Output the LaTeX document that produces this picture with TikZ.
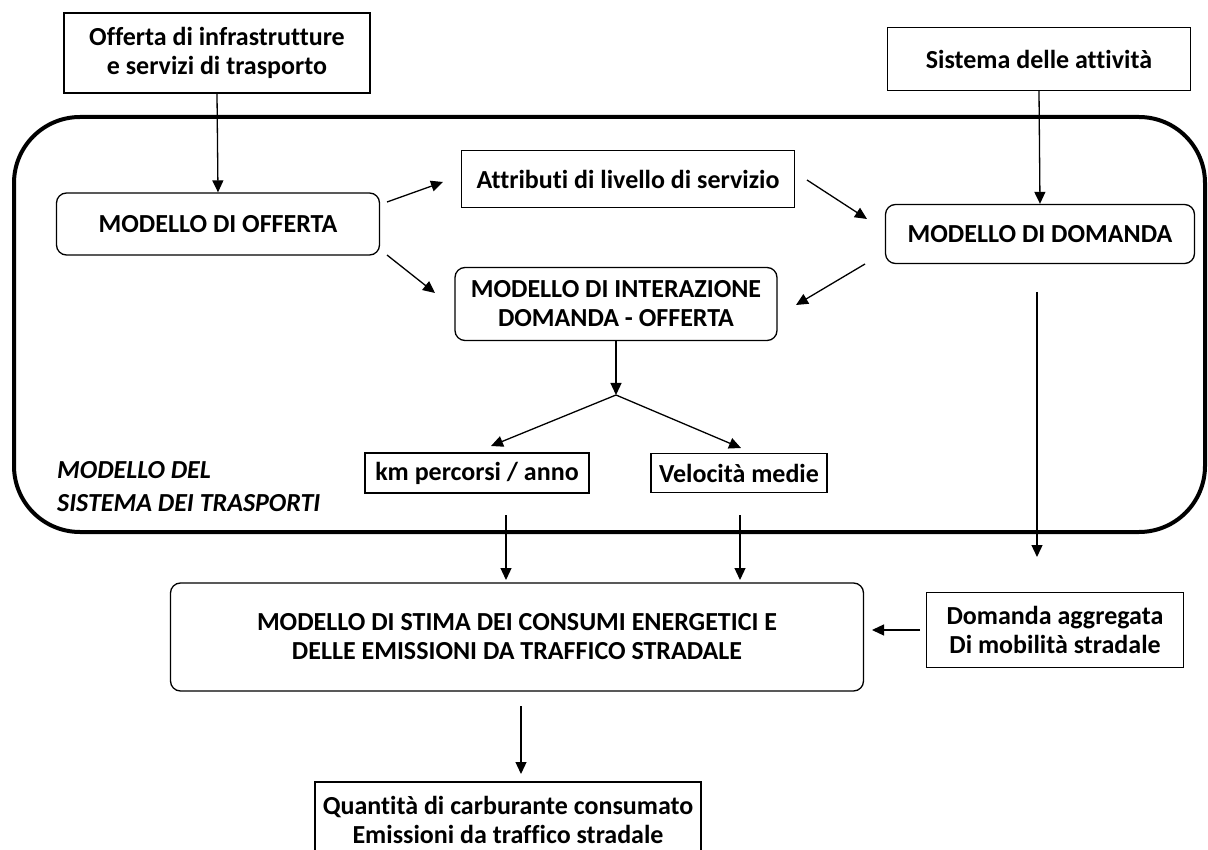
\documentclass[tikz,border=0pt]{standalone}
\usepackage{fontspec}
\setmainfont{Carlito}[Ligatures=CommonOff]
\usepackage{tikz}
\usetikzlibrary{arrows.meta,positioning}

\begin{document}
\begin{tikzpicture}[x=1pt, y=-1pt,
    box/.style={draw, line width=1.3pt, align=center, inner sep=0pt, font=\fontsize{26}{29}\selectfont\bfseries},
    rbox/.style={box, rounded corners=10pt},
    arr/.style={-{Triangle[length=12pt,width=11pt]}, line width=1.3pt}]
    \useasboundingbox (0,0) rectangle (1208,850);

    % system frame
    \draw[line width=4pt, rounded corners=66pt] (14,117) rectangle (1205,532);
    \node[anchor=west, align=left, inner sep=0pt, font=\fontsize{26}{33}\selectfont\bfseries\itshape] (sys_lbl) at (57,487) {MODELLO DEL\\SISTEMA DEI TRASPORTI};

    \node[box, minimum width=306, minimum height=80] (off_in) at (217,53) {Offerta di infrastrutture\\e servizi di trasporto};
    \node[box, minimum width=303, minimum height=63] (sist) at (1039,59) {Sistema delle attivit\`a};

    \node[rbox, minimum width=323, minimum height=62] (mod_off) at (218,224) {MODELLO DI OFFERTA};
    \node[box, minimum width=333, minimum height=57] (attr) at (628,179) {Attributi di livello di servizio};
    \node[rbox, minimum width=309, minimum height=59] (mod_dom) at (1040,234) {MODELLO DI DOMANDA};
    \node[rbox, minimum width=322, minimum height=73] (mod_int) at (616,304) {MODELLO DI INTERAZIONE\\DOMANDA - OFFERTA};

    \node[box, minimum width=224, minimum height=40] (km) at (477,473) {km percorsi / anno};
    \node[box, minimum width=176, minimum height=39] (vel) at (739,473) {Velocit\`a medie};

    \node[rbox, minimum width=693, minimum height=108] (stima) at (517,637) {MODELLO DI STIMA DEI CONSUMI ENERGETICI E\\DELLE EMISSIONI DA TRAFFICO STRADALE};
    \node[box, minimum width=257, minimum height=75] (agg) at (1055,630) {Domanda aggregata\\Di mobilit\`a stradale};
    \node[box, minimum width=386, minimum height=76] (quant) at (508,820) {Quantit\`a di carburante consumato\\Emissioni da traffico stradale};

    % free ends of the arrows
    \coordinate (off_a) at (387,202);
    \coordinate (attr_in) at (443,182);
    \coordinate (off_b) at (387,255);
    \coordinate (int_in1) at (435,293);
    \coordinate (attr_out) at (807,180);
    \coordinate (dom_in) at (867,219);
    \coordinate (dom_out) at (865,264);
    \coordinate (int_in2) at (796,305);
    \coordinate (fork) at (616,395);
    \coordinate (km_in) at (491,446);
    \coordinate (vel_in) at (741,448);
    \coordinate (km_out) at (506,515);
    \coordinate (km_end) at (506,580);
    \coordinate (vel_out) at (740,515);
    \coordinate (vel_end) at (740,580);
    \coordinate (dom_down) at (1037,292);
    \coordinate (dom_end) at (1037,557);
    \coordinate (agg_out) at (920,630);
    \coordinate (stima_in) at (872,630);
    \coordinate (stima_out) at (521,706);
    \coordinate (quant_in) at (521,774);

    \draw[arr] (off_in.south) -- (mod_off.north);
    \draw[arr] (sist.south) -- (mod_dom.north);
    \draw[arr] (off_a) -- (attr_in);
    \draw[arr] (off_b) -- (int_in1);
    \draw[arr] (attr_out) -- (dom_in);
    \draw[arr] (dom_out) -- (int_in2);
    \draw[arr] (mod_int.south) -- (fork);
    \draw[arr] (fork) -- (km_in);
    \draw[arr] (fork) -- (vel_in);
    \draw[arr] (km_out) -- (km_end);
    \draw[arr] (vel_out) -- (vel_end);
    \draw[arr] (dom_down) -- (dom_end);
    \draw[arr] (agg_out) -- (stima_in);
    \draw[arr] (stima_out) -- (quant_in);
\end{tikzpicture}
\end{document}
